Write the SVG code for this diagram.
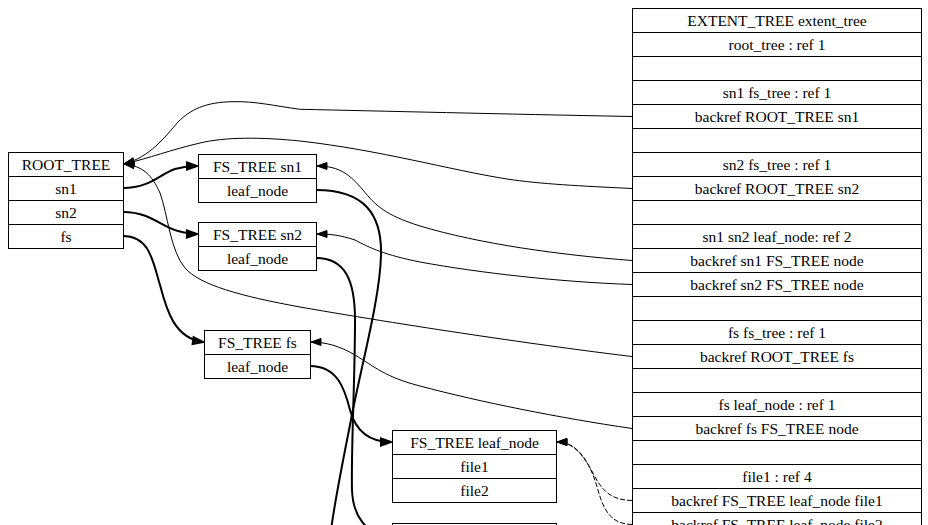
<svg xmlns="http://www.w3.org/2000/svg" width="928" height="525" viewBox="0 0 928 525">
<style>
  .box { fill: #fff; stroke: #000; stroke-width: 1; }
  .sep { stroke: #000; stroke-width: 1; }
  text { font-family: "Liberation Serif", "Times New Roman", serif; font-size: 15.5px; fill: #000; text-anchor: middle; }
  .e { fill: none; stroke: #000; stroke-width: 1; }
  .eb { fill: none; stroke: #000; stroke-width: 2; }
  .ed { fill: none; stroke: #000; stroke-width: 1; stroke-dasharray: 5,2; }
</style>
<defs>
  <marker id="a" markerUnits="userSpaceOnUse" markerWidth="12" markerHeight="10" refX="10" refY="4" orient="auto" overflow="visible">
    <path d="M0,0.5 L10,4 L0,7.5 z" fill="#000" stroke="#000" stroke-width="1"/>
  </marker>
  <marker id="ab" markerUnits="userSpaceOnUse" markerWidth="14" markerHeight="12" refX="10" refY="4" orient="auto" overflow="visible">
    <path d="M0,0.5 L10,4 L0,7.5 z" fill="#000" stroke="#000" stroke-width="2"/>
  </marker>
</defs>
<rect width="928" height="525" fill="#fff"/>

<g id="edges">
  <path class="e" marker-end="url(#a)" d="M632,116.5 C500,114 380,111 300,109.3 C275,106 255,101 233,101.7 C205,102 190,110 178,122 C165,137 150,157 124,164"/>
  <path class="e" marker-end="url(#a)" d="M632,188.5 C580,186 540,184 507,179 C450,170 380,150 300,141 C260,137 225,137 200,143 C170,150 150,158 124,164"/>
  <path class="e" marker-end="url(#a)" d="M632,356.5 C560,348 420,328 300,307 C240,296 200,285 185,268 C170,250 168,215 160,193 C152,175 143,166 124,164"/>
  <path class="e" marker-end="url(#a)" d="M632,260.5 C560,255 480,244 420,226 C385,215 375,205 363,190 C350,175 340,166 317,166"/>
  <path class="e" marker-end="url(#a)" d="M632,284.5 C560,282 480,273 420,262 C385,255 370,248 355,240 C340,235 330,234 317,234"/>
  <path class="e" marker-end="url(#a)" d="M632,428.5 C560,418 480,402 420,386 C385,377 375,367 355,355 C340,346 325,342 311,342"/>
  <path class="ed" marker-end="url(#a)" d="M632,500.5 C610,500 602,490 594,475 C585,458 575,442 557,442"/>
  <path class="ed" marker-end="url(#a)" d="M632,524.5 C612,524 604,512 598,490 C590,462 578,442 557,442"/>
  <path class="eb" marker-end="url(#ab)" d="M123,188 C150,188 160,174 175,169 C182,167 188,166 197,166"/>
  <path class="eb" marker-end="url(#ab)" d="M123,212 C150,212 160,226 178,231 C185,233 190,234 197,234"/>
  <path class="eb" marker-end="url(#ab)" d="M123,236 C150,236 153,262 160,285 C167,312 175,338 203,342"/>
  <path class="eb" d="M316,190 C365,190 382,215 381,255 C380,300 360,370 350,425 C342,465 335,500 331,530"/>
  <path class="eb" marker-end="url(#ab)" d="M316,258 C345,258 355,280 355,320 C355,380 351,450 352,490 C353,515 365,535 391,535"/>
  <path class="eb" marker-end="url(#ab)" d="M310,366 C338,366 345,390 350,410 C356,432 370,442 391,442"/>
</g>

<g id="root_tree">
  <rect class="box" x="8.5" y="152.5" width="115" height="96"/>
  <line class="sep" x1="8.5" y1="176.5" x2="123.5" y2="176.5"/>
  <line class="sep" x1="8.5" y1="200.5" x2="123.5" y2="200.5"/>
  <line class="sep" x1="8.5" y1="224.5" x2="123.5" y2="224.5"/>
  <text x="66" y="169.5">ROOT_TREE</text>
  <text x="66" y="193.5">sn1</text>
  <text x="66" y="217.5">sn2</text>
  <text x="66" y="241.5">fs</text>
</g>

<g id="fs_tree_sn1">
  <rect class="box" x="198.5" y="154.5" width="118" height="48"/>
  <line class="sep" x1="198.5" y1="178.5" x2="316.5" y2="178.5"/>
  <text x="257.5" y="171.5">FS_TREE sn1</text>
  <text x="257.5" y="195.5">leaf_node</text>
</g>

<g id="fs_tree_sn2">
  <rect class="box" x="198.5" y="222.5" width="118" height="48"/>
  <line class="sep" x1="198.5" y1="246.5" x2="316.5" y2="246.5"/>
  <text x="257.5" y="239.5">FS_TREE sn2</text>
  <text x="257.5" y="263.5">leaf_node</text>
</g>

<g id="fs_tree_fs">
  <rect class="box" x="204.5" y="330.5" width="106" height="48"/>
  <line class="sep" x1="204.5" y1="354.5" x2="310.5" y2="354.5"/>
  <text x="257.5" y="347.5">FS_TREE fs</text>
  <text x="257.5" y="371.5">leaf_node</text>
</g>

<g id="fs_tree_leaf_node">
  <rect class="box" x="392.5" y="430.5" width="164" height="72"/>
  <line class="sep" x1="392.5" y1="454.5" x2="556.5" y2="454.5"/>
  <line class="sep" x1="392.5" y1="478.5" x2="556.5" y2="478.5"/>
  <text x="474.5" y="447.5">FS_TREE leaf_node</text>
  <text x="474.5" y="471.5">file1</text>
  <text x="474.5" y="495.5">file2</text>
</g>

<g id="fs_tree_leaf_node_2">
  <rect class="box" x="392.5" y="523.5" width="164" height="48"/>
</g>

<g id="extent_tree">
  <rect class="box" x="632.5" y="8.5" width="289" height="528"/>
  <g class="sep">
    <line x1="632.5" y1="32.5" x2="921.5" y2="32.5"/>
    <line x1="632.5" y1="56.5" x2="921.5" y2="56.5"/>
    <line x1="632.5" y1="80.5" x2="921.5" y2="80.5"/>
    <line x1="632.5" y1="104.5" x2="921.5" y2="104.5"/>
    <line x1="632.5" y1="128.5" x2="921.5" y2="128.5"/>
    <line x1="632.5" y1="152.5" x2="921.5" y2="152.5"/>
    <line x1="632.5" y1="176.5" x2="921.5" y2="176.5"/>
    <line x1="632.5" y1="200.5" x2="921.5" y2="200.5"/>
    <line x1="632.5" y1="224.5" x2="921.5" y2="224.5"/>
    <line x1="632.5" y1="248.5" x2="921.5" y2="248.5"/>
    <line x1="632.5" y1="272.5" x2="921.5" y2="272.5"/>
    <line x1="632.5" y1="296.5" x2="921.5" y2="296.5"/>
    <line x1="632.5" y1="320.5" x2="921.5" y2="320.5"/>
    <line x1="632.5" y1="344.5" x2="921.5" y2="344.5"/>
    <line x1="632.5" y1="368.5" x2="921.5" y2="368.5"/>
    <line x1="632.5" y1="392.5" x2="921.5" y2="392.5"/>
    <line x1="632.5" y1="416.5" x2="921.5" y2="416.5"/>
    <line x1="632.5" y1="440.5" x2="921.5" y2="440.5"/>
    <line x1="632.5" y1="464.5" x2="921.5" y2="464.5"/>
    <line x1="632.5" y1="488.5" x2="921.5" y2="488.5"/>
    <line x1="632.5" y1="512.5" x2="921.5" y2="512.5"/>
  </g>
  <text x="777" y="25.5">EXTENT_TREE extent_tree</text>
  <text x="777" y="49.5">root_tree : ref 1</text>
  <text x="777" y="97.5">sn1 fs_tree : ref 1</text>
  <text x="777" y="121.5">backref ROOT_TREE sn1</text>
  <text x="777" y="169.5">sn2 fs_tree : ref 1</text>
  <text x="777" y="193.5">backref ROOT_TREE sn2</text>
  <text x="777" y="241.5">sn1 sn2 leaf_node: ref 2</text>
  <text x="777" y="265.5">backref sn1 FS_TREE node</text>
  <text x="777" y="289.5">backref sn2 FS_TREE node</text>
  <text x="777" y="337.5">fs fs_tree : ref 1</text>
  <text x="777" y="361.5">backref ROOT_TREE fs</text>
  <text x="777" y="409.5">fs leaf_node : ref 1</text>
  <text x="777" y="433.5">backref fs FS_TREE node</text>
  <text x="777" y="481.5">file1 : ref 4</text>
  <text x="777" y="505.5">backref FS_TREE leaf_node file1</text>
  <text x="777" y="529.5">backref FS_TREE leaf_node file2</text>
</g>
</svg>
